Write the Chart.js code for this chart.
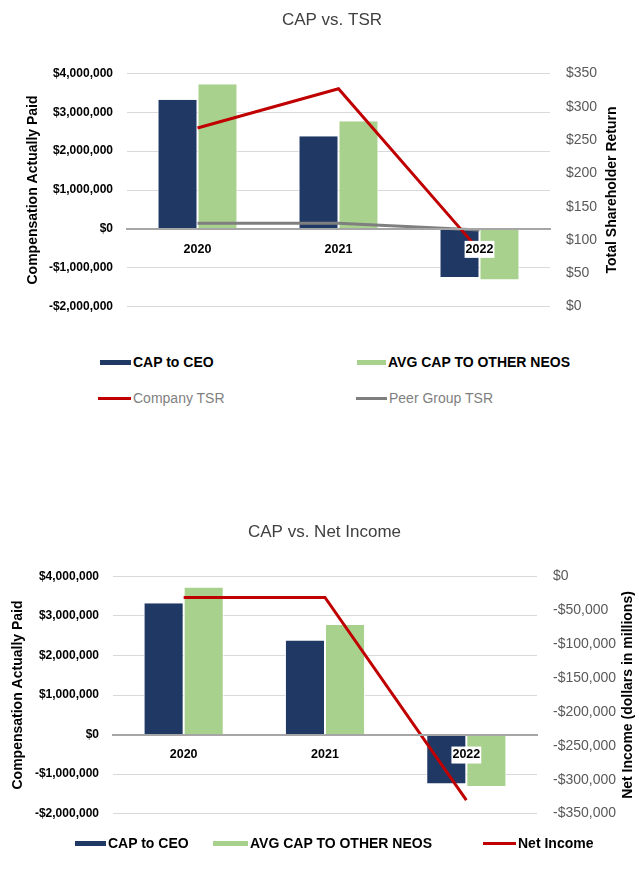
<!DOCTYPE html>
<html>
<head>
<meta charset="utf-8">
<script src="https://cdn.jsdelivr.net/npm/chart.js@4.4.1/dist/chart.umd.min.js"></script>
<style>
  body { margin: 0; background: #fff; font-family: "Liberation Sans", Arial, sans-serif; }
  #wrap { position: relative; width: 639px; height: 876px; overflow: hidden; }
  canvas { position: absolute; left: 0; }
  .leg { position: absolute; display: flex; align-items: center; font-size: 14px; white-space: nowrap; transform: translateY(-50%); }
  .leg .m { display: inline-block; margin-right: 2px; }
</style>
</head>
<body>
<div id="wrap">
  <canvas id="c1" width="639" height="331" style="top:0;width:639px;height:331px"></canvas>
  <canvas id="c2" width="639" height="338" style="top:500px;width:639px;height:338px"></canvas>
</div>
<script>
// values
var years = ['2020', '2021', '2022'];
var capCeo = [3320000, 2380000, -1240000];
var capNeos = [3720000, 2770000, -1300000];
var companyTsr = [268, 327, 84];
var peerTsr = [125, 125, 115];
var netIncome = [-31000, -31000, -330000];

var FONT = '"Liberation Sans", Arial, sans-serif';
var NAVY = '#1f3864', GREEN = '#a9d18e', RED = '#c00000', GREY = '#7f7f7f';

function money(v) {
  return (v < 0 ? '-$' : '$') + Math.abs(v).toLocaleString('en-US');
}

// right axis title, reads bottom to top
var sideTitle = {
  id: 'sideTitle',
  afterDraw(chart, args, opts) {
    var ctx = chart.ctx, a = chart.chartArea;
    ctx.save();
    ctx.translate(opts.x, (a.top + a.bottom) / 2);
    ctx.rotate(-Math.PI / 2);
    ctx.font = 'bold 14px ' + FONT;
    ctx.fillStyle = '#000';
    ctx.textAlign = 'center';
    ctx.textBaseline = 'middle';
    ctx.fillText(opts.text, 0, 0);
    ctx.restore();
  }
};

function barSet(label, data, color) {
  return {
    label: label, data: data, backgroundColor: color,
    borderColor: '#fff', borderWidth: {left: 1, right: 1, top: 0, bottom: 0},
    categoryPercentage: 0.567, barPercentage: 1,
    yAxisID: 'y', order: 2
  };
}
function lineSet(label, data, color) {
  return {
    type: 'line', label: label, data: data, borderColor: color, backgroundColor: color,
    borderWidth: 3, pointRadius: 0, tension: 0, yAxisID: 'y1', order: 1
  };
}

function options(title, titlePad, pad, leftW, rightW, y1, sideText, sideX) {
  return {
    responsive: false,
    animation: false,
    layout: {padding: pad},
    plugins: {
      legend: {display: false},
      tooltip: {enabled: false},
      title: {display: true, text: title, color: '#404040',
              font: {family: FONT, size: 17, weight: 'normal'}, padding: titlePad},
      sideTitle: {text: sideText, x: sideX}
    },
    scales: {
      x: {
        position: {y: 0},
        grid: {display: false},
        border: {display: true, color: '#a6a6a6', width: 2, z: 1},
        ticks: {font: {family: FONT, size: 12.5, weight: 'bold'}, color: '#000', padding: 5, z: 1,
                showLabelBackdrop: true, backdropColor: '#fff', backdropPadding: 1}
      },
      y: {
        position: 'left', min: -2000000, max: 4000000,
        ticks: {stepSize: 1000000, callback: money, color: '#000', padding: 14,
                font: {family: FONT, size: 12, weight: 'bold'}},
        grid: {color: '#d9d9d9', drawTicks: false},
        border: {display: false},
        title: {display: true, text: 'Compensation Actually Paid', color: '#000', padding: 0,
                font: {family: FONT, size: 14, weight: 'bold'}},
        afterFit: function (s) { s.width = leftW; }
      },
      y1: Object.assign({
        position: 'right',
        grid: {display: false, drawTicks: false},
        border: {display: false},
        afterFit: function (s) { s.width = rightW; }
      }, y1)
    }
  };
}

var chart1 = new Chart(document.getElementById('c1'), {
  type: 'bar',
  data: {
    labels: years,
    datasets: [
      barSet('CAP to CEO', capCeo, NAVY),
      barSet('AVG CAP TO OTHER NEOS', capNeos, GREEN),
      lineSet('Company TSR', companyTsr, RED),
      lineSet('Peer Group TSR', peerTsr, GREY)
    ]
  },
  options: options('CAP vs. TSR', {top: 10, bottom: 43}, {left: 25, right: 0, top: 0, bottom: 0}, 102, 89, {
    min: 0, max: 350,
    ticks: {stepSize: 50, callback: function (v) { return '$' + v; }, color: '#595959', padding: 16,
            font: {family: FONT, size: 14}}
  }, 'Total Shareholder Return', 612),
  plugins: [sideTitle]
});

var chart2 = new Chart(document.getElementById('c2'), {
  type: 'bar',
  data: {
    labels: years,
    datasets: [
      barSet('CAP to CEO', capCeo, NAVY),
      barSet('AVG CAP TO OTHER NEOS', capNeos, GREEN),
      lineSet('Net Income', netIncome, RED)
    ]
  },
  options: options('CAP vs. Net Income', {top: 22, bottom: 34}, {left: 10, right: 0, top: 0, bottom: 0}, 103, 102, {
    min: -350000, max: 0,
    ticks: {stepSize: 50000, callback: money, color: '#595959', padding: 16,
            font: {family: FONT, size: 14}}
  }, 'Net Income (dollars in millions)', 628),
  plugins: [sideTitle]
});

// html legends built from the datasets
function legend(chart, items) {
  var wrap = document.getElementById('wrap');
  items.forEach(function (it) {
    var ds = chart.data.datasets[it.i];
    var isLine = ds.type === 'line';
    var el = document.createElement('div');
    el.className = 'leg';
    el.style.left = it.x + 'px';
    el.style.top = it.y + 'px';
    el.style.color = it.color || '#000';
    el.style.fontWeight = it.bold ? 'bold' : 'normal';
    var m = document.createElement('span');
    m.className = 'm';
    m.style.width = it.w + 'px';
    m.style.height = (isLine ? 3 : 5) + 'px';
    m.style.background = isLine ? ds.borderColor : ds.backgroundColor;
    el.appendChild(m);
    el.appendChild(document.createTextNode(ds.label));
    wrap.appendChild(el);
  });
}

legend(chart1, [
  {i: 0, x: 100, y: 362, w: 31, bold: true},
  {i: 1, x: 357, y: 362, w: 29, bold: true},
  {i: 2, x: 98, y: 398, w: 33, color: GREY},
  {i: 3, x: 356, y: 398, w: 31, color: GREY}
]);
legend(chart2, [
  {i: 0, x: 75, y: 843, w: 31, bold: true},
  {i: 1, x: 213, y: 843, w: 35, bold: true},
  {i: 2, x: 483, y: 843, w: 33, bold: true}
]);
</script>
</body>
</html>
